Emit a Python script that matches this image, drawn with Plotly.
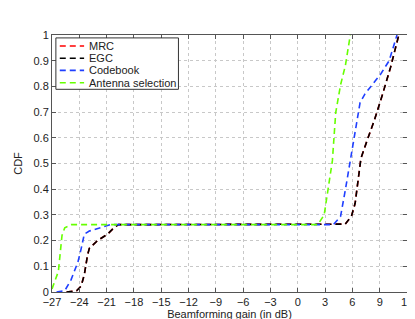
import plotly.graph_objects as go

# Data
mrc_x = [-25.4, -24.3, -23.8, -23.45, -23.1, -22.9, -22.0, -20.9, -20.2, -19.7, 5.2, 5.9, 6.3, 6.65, 6.84, 6.94, 7.72, 8.43, 9.32, 10.2, 11.1]
mrc_y = [0.0, 0.005, 0.023, 0.067, 0.143, 0.17, 0.2, 0.225, 0.25, 0.262, 0.264, 0.295, 0.345, 0.446, 0.496, 0.52, 0.60, 0.67, 0.77, 0.875, 1.0]
egc_x = [-25.4, -24.3, -23.8, -23.45, -23.1, -22.9, -22.0, -20.9, -20.2, -19.7, 5.2, 5.9, 6.3, 6.65, 6.84, 6.94, 7.72, 8.43, 9.32, 10.2, 11.1]
egc_y = [0.0, 0.005, 0.023, 0.067, 0.143, 0.17, 0.2, 0.225, 0.25, 0.262, 0.264, 0.295, 0.345, 0.446, 0.496, 0.52, 0.60, 0.67, 0.77, 0.875, 1.0]
cb_x = [-26.5, -25.6, -24.9, -24.15, -23.8, -23.45, -22.9, -21.7, -20.6, 3.9, 4.7, 5.24, 5.66, 5.77, 6.3, 6.84, 7.37, 9.15, 10.04, 10.9]
cb_y = [0.0, 0.005, 0.048, 0.117, 0.168, 0.225, 0.237, 0.25, 0.262, 0.262, 0.294, 0.40, 0.49, 0.52, 0.62, 0.736, 0.77, 0.85, 0.90, 1.0]
as_x = [-27.0, -26.3, -25.9, -25.6, -24.9, 2.2, 2.9, 3.8, 4.17, 4.7, 5.23, 5.77]
as_y = [0.012, 0.08, 0.22, 0.25, 0.262, 0.262, 0.30, 0.51, 0.698, 0.806, 0.881, 1.0]

x_ticks = [-27, -24, -21, -18, -15, -12, -9, -6, -3, 0, 3, 6, 9, 12]
y_ticks = [0, 0.1, 0.2, 0.3, 0.4, 0.5, 0.6, 0.7, 0.8, 0.9, 1]
y_tick_labels = ["0", "0.1", "0.2", "0.3", "0.4", "0.5", "0.6", "0.7", "0.8", "0.9", "1"]

series_names = ["MRC", "EGC", "Codebook", "Antenna selection"]
series_x = [mrc_x, egc_x, cb_x, as_x]
series_y = [mrc_y, egc_y, cb_y, as_y]
series_colors = ["#ff0000", "#000000", "#1f3fff", "#66ff00"]

DASH = "6px,4px"
FONT = "Liberation Sans, Arial, Helvetica"

fig = go.Figure()
for name, xs, ys, col in zip(series_names, series_x, series_y, series_colors):
    fig.add_trace(go.Scatter(x=xs, y=ys, mode="lines", name=name, showlegend=False,
                             line=dict(color=col, width=1.6, dash=DASH)))

# Compact MATLAB-style legend (plot-area paper coordinates)
W, H = 365.0, 265.0
def px(xp):
    return (xp - 40) / W
def py(yp):
    return 1 - (yp - 27) / H

fig.add_shape(type="rect", xref="paper", yref="paper",
              x0=px(44), x1=px(170), y0=py(83), y1=py(30),
              line=dict(color="#333333", width=1), fillcolor="white", layer="above")
rows = [38.3, 51.0, 63.5, 76.3]
for name, col, r in zip(series_names, series_colors, rows):
    fig.add_shape(type="line", xref="paper", yref="paper",
                  x0=px(48), x1=px(73), y0=py(r), y1=py(r),
                  line=dict(color=col, width=1.6, dash=DASH), layer="above")
    fig.add_annotation(xref="paper", yref="paper", x=px(75.5), y=py(r),
                       text=name, showarrow=False, xanchor="left", yanchor="middle",
                       font=dict(family=FONT, size=11, color="#222"))

axis_common = dict(showline=True, linecolor="#555555", linewidth=1, mirror="ticks",
                   ticks="inside", ticklen=4, tickcolor="#555555",
                   showgrid=True, gridcolor="#c8c8c8", griddash="dot", gridwidth=1,
                   zeroline=False, tickfont=dict(family=FONT, size=11, color="#222"))

fig.update_layout(
    width=415, height=319,
    margin=dict(l=40, r=10, t=27, b=27),
    paper_bgcolor="white", plot_bgcolor="white",
    font=dict(family=FONT, size=11, color="#222"),
    xaxis=dict(range=[-27, 12], tickvals=x_ticks,
               title=dict(text="Beamforming gain (in dB)", standoff=1, font=dict(size=11)), **axis_common),
    yaxis=dict(range=[0, 1], tickvals=y_ticks, ticktext=y_tick_labels,
               title=dict(text="CDF", standoff=8, font=dict(size=11)), **axis_common),
    showlegend=False,
)

fig.write_html("out.html")
